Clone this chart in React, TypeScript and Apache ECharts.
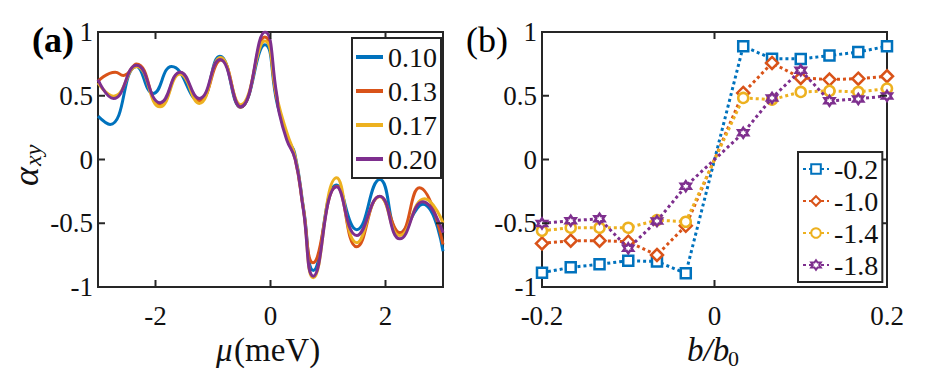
import React, { useEffect, useRef } from 'react';
import * as echarts from 'echarts';

const FONT = 'Liberation Serif';
const COLORS = ['#0072BD', '#D95319', '#EDB120', '#7E2F8E'];
const INK = '#262626';

// Panel (a): alpha_xy vs mu (meV)
const muNames = ['0.10', '0.13', '0.17', '0.20'];
const mu010: number[][] = [
  [-3, 0.34], [-2.79, 0.275], [-2.33, 0.73], [-2.04, 0.518], [-1.72, 0.73], [-1.24, 0.46],
  [-0.88, 0.81], [-0.52, 0.41], [-0.1, 0.9], [0.12, 0.43], [0.3, 0.16], [0.42, 0.05],
  [0.58, -0.4], [0.745, -0.87], [1.15, -0.2], [1.5, -0.55], [1.9, -0.157], [2.25, -0.575],
  [2.65, -0.35], [3, -0.72],
];
const mu013: number[][] = [
  [-3, 0.614], [-2.7, 0.685], [-2.56, 0.659], [-2.33, 0.75], [-1.92, 0.424], [-1.57, 0.68],
  [-1.24, 0.457], [-0.86, 0.78], [-0.52, 0.41], [-0.1, 0.96], [0.12, 0.45], [0.3, 0.16],
  [0.43, 0.0], [0.57, -0.38], [0.74, -0.81], [1.15, -0.21], [1.5, -0.685], [1.9, -0.29],
  [2.25, -0.575], [2.59, -0.222], [3, -0.667],
];
const mu017: number[][] = [
  [-3, 0.6], [-2.73, 0.497], [-2.33, 0.73], [-1.92, 0.413], [-1.57, 0.67], [-1.24, 0.44],
  [-0.87, 0.8], [-0.52, 0.43], [-0.1, 0.93], [0.12, 0.47], [0.3, 0.19], [0.43, 0.02],
  [0.57, -0.38], [0.745, -0.928], [1.15, -0.144], [1.5, -0.653], [1.9, -0.29], [2.25, -0.596],
  [2.68, -0.308], [3, -0.497],
];
const mu020: number[][] = [
  [-3, 0.627], [-2.73, 0.478], [-2.33, 0.74], [-1.92, 0.445], [-1.57, 0.685], [-1.24, 0.478],
  [-0.88, 0.784], [-0.52, 0.413], [-0.096, 1.0], [0.108, 0.51], [0.14, 0.39], [0.28, 0.157],
  [0.43, 0.0], [0.57, -0.39], [0.745, -0.915], [1.15, -0.214], [1.5, -0.596], [1.9, -0.288],
  [2.25, -0.622], [2.65, -0.332], [3, -0.575],
];
const muSeries = [mu010, mu013, mu017, mu020];

// Panel (b): alpha_xy vs b/b0
const bNames = ['-0.2', '-1.0', '-1.4', '-1.8'];
const bX = [-0.2, -0.1667, -0.1333, -0.1, -0.0667, -0.0333, 0.0333, 0.0667, 0.1, 0.1333, 0.1667, 0.2];
const bM02 = [-0.888, -0.846, -0.822, -0.794, -0.8, -0.893, 0.888, 0.791, 0.789, 0.815, 0.843, 0.888];
const bM10 = [-0.658, -0.637, -0.637, -0.645, -0.749, -0.52, 0.522, 0.757, 0.64, 0.627, 0.634, 0.653];
const bM14 = [-0.559, -0.535, -0.535, -0.535, -0.475, -0.488, 0.483, 0.47, 0.53, 0.538, 0.53, 0.556];
const bM18 = [-0.501, -0.48, -0.465, -0.697, -0.483, -0.209, 0.209, 0.483, 0.7, 0.46, 0.475, 0.499];
const bSeries = [bM02, bM10, bM14, bM18];

const yTicks = [-1, -0.5, 0, 0.5, 1];
const muTicks = [-2, 0, 2];
const bTicks = [-0.2, 0, 0.2];

function hexagramPath(): string {
  const pts: string[] = [];
  for (let i = 0; i < 12; i++) {
    const a = (-90 + i * 30) * Math.PI / 180;
    const r = i % 2 === 0 ? 10 : 5.77;
    pts.push(`${(10 + r * Math.cos(a)).toFixed(2)} ${(10 + r * Math.sin(a)).toFixed(2)}`);
  }
  return 'path://M' + pts.join(' L') + ' Z';
}
const SYMBOLS = ['rect', 'diamond', 'circle', hexagramPath()];

// custom series drawing MATLAB-style inward ticks on all four sides
function tickSeries(xi: number, xs: number[], xmin: number, xmax: number) {
  const data: number[][] = [
    ...xs.map((v) => [v, 0, 0]),
    ...yTicks.map((v) => [xmin, v, 1]),
  ];
  const L = 7;
  return {
    type: 'custom', xAxisIndex: xi, yAxisIndex: xi, data, clip: false, silent: true, z: 20,
    renderItem: (params: any, api: any) => {
      const kind = api.value(2);
      const st = { stroke: INK, lineWidth: 2 };
      if (kind === 0) {
        const v = api.value(0);
        const pb = api.coord([v, -1]);
        const pt = api.coord([v, 1]);
        return {
          type: 'group', children: [
            { type: 'line', shape: { x1: pb[0], y1: pb[1], x2: pb[0], y2: pb[1] - L }, style: st },
            { type: 'line', shape: { x1: pt[0], y1: pt[1], x2: pt[0], y2: pt[1] + L }, style: st },
          ],
        };
      }
      const v = api.value(1);
      const pl = api.coord([xmin, v]);
      const pr = api.coord([xmax, v]);
      return {
        type: 'group', children: [
          { type: 'line', shape: { x1: pl[0], y1: pl[1], x2: pl[0] + L, y2: pl[1] }, style: st },
          { type: 'line', shape: { x1: pr[0], y1: pr[1], x2: pr[0] - L, y2: pr[1] }, style: st },
        ],
      };
    },
  };
}

export default function App() {
  const ref = useRef<HTMLDivElement>(null);
  useEffect(() => {
    if (!ref.current) return;
    const chart = echarts.init(ref.current, undefined, { renderer: 'svg' });
    const grids = [
      { left: 98, top: 32, width: 345, height: 255 },
      { left: 542, top: 32, width: 345, height: 255 },
    ].map((g) => ({ ...g, show: true, borderColor: INK, borderWidth: 2, backgroundColor: 'transparent' }));

    const label = { color: '#111', fontFamily: FONT, fontSize: 27 };
    const noLine = { show: false, onZero: false };

    const xAxis: any[] = [
      {
        type: 'value', gridIndex: 0, min: -3, max: 3, position: 'bottom',
        axisLine: noLine, splitLine: { show: false }, axisTick: { show: false },
        axisLabel: { ...label, margin: 15, customValues: muTicks },
      },
      {
        type: 'value', gridIndex: 1, min: -0.2, max: 0.2, interval: 0.2, position: 'bottom',
        axisLine: noLine, splitLine: { show: false }, axisTick: { show: false },
        axisLabel: { ...label, margin: 15 },
      },
    ];
    const yAxis: any[] = [0, 1].map((gi) => ({
      type: 'value', gridIndex: gi, min: -1, max: 1, interval: 0.5, position: 'left',
      axisLine: noLine, splitLine: { show: false }, axisTick: { show: false },
      axisLabel: { ...label, margin: 5, customValues: yTicks },
    }));

    const series: any[] = [];
    muSeries.forEach((d, i) => {
      series.push({
        name: muNames[i], type: 'line', xAxisIndex: 0, yAxisIndex: 0,
        data: d, smooth: 0.5, symbol: 'none', color: COLORS[i],
        lineStyle: { width: 3, color: COLORS[i] }, z: 2 + i,
      });
    });
    bSeries.forEach((vals, i) => {
      series.push({
        name: bNames[i], type: 'line', xAxisIndex: 1, yAxisIndex: 1,
        data: bX.map((x, k) => [x, vals[k]]),
        symbol: SYMBOLS[i], symbolSize: i === 1 ? 12 : 10, showSymbol: true,
        color: COLORS[i],
        itemStyle: { color: '#fff', borderColor: COLORS[i], borderWidth: 2.5 },
        lineStyle: { width: 3, color: COLORS[i], type: [3, 3] }, z: 2 + i,
      });
    });
    series.push(tickSeries(0, muTicks, -3, 3));
    series.push(tickSeries(1, bTicks, -0.2, 0.2));

    const legendBase = {
      orient: 'vertical', backgroundColor: '#fff', borderColor: INK, borderWidth: 2,
      borderRadius: 0, itemGap: 4, textStyle: { fontFamily: FONT, fontSize: 28, color: '#111' },
      selectedMode: false, z: 30,
    };

    chart.setOption({
      animation: false,
      grid: grids,
      xAxis, yAxis, series,
      legend: [
        {
          ...legendBase, data: muNames.map((n) => ({ name: n, icon: 'rect' })),
          left: 352, top: 38, padding: [5, 4, 5, 4], itemWidth: 27, itemHeight: 4, itemGap: 6,
        },
        { ...legendBase, data: bNames, left: 798, top: 152, padding: [3, 4, 3, 4], itemWidth: 26, itemHeight: 12 },
      ],
      graphic: [
        { type: 'text', left: 32, top: 22, style: { text: '(a)', fontFamily: FONT, fontSize: 36, fontWeight: 'bold', fill: '#000' } },
        { type: 'text', left: 466, top: 22, style: { text: '(b)', fontFamily: FONT, fontSize: 36, fill: '#000' } },
        {
          type: 'group', x: 26, y: 160, rotation: Math.PI / 2,
          children: [
            { type: 'text', x: -26, y: 0, style: { text: 'α', fontFamily: FONT, fontStyle: 'italic', fontSize: 36, fill: '#111', textAlign: 'left', textVerticalAlign: 'middle' } },
            { type: 'text', x: -6, y: 7, style: { text: 'xy', fontFamily: FONT, fontStyle: 'italic', fontSize: 24, fill: '#111', textAlign: 'left', textVerticalAlign: 'middle' } },
          ],
        },
        {
          type: 'group', x: 272, y: 350,
          children: [
            { type: 'text', x: -56, y: 0, style: { text: 'μ', fontFamily: FONT, fontStyle: 'italic', fontSize: 33, fill: '#111', textAlign: 'left', textVerticalAlign: 'middle' } },
            { type: 'text', x: -38, y: 0, style: { text: '(meV)', fontFamily: FONT, fontSize: 33, fill: '#111', textAlign: 'left', textVerticalAlign: 'middle' } },
          ],
        },
        {
          type: 'group', x: 714, y: 350,
          children: [
            { type: 'text', x: -27, y: 0, style: { text: 'b/b', fontFamily: FONT, fontStyle: 'italic', fontSize: 33, fill: '#111', textAlign: 'left', textVerticalAlign: 'middle' } },
            { type: 'text', x: 14, y: 8, style: { text: '0', fontFamily: FONT, fontSize: 22, fill: '#111', textAlign: 'left', textVerticalAlign: 'middle' } },
          ],
        },
      ],
    });
    return () => chart.dispose();
  }, []);
  return <div ref={ref} style={{ position: 'fixed', left: 0, top: 0, width: 931, height: 370, background: '#fff' }} />;
}
